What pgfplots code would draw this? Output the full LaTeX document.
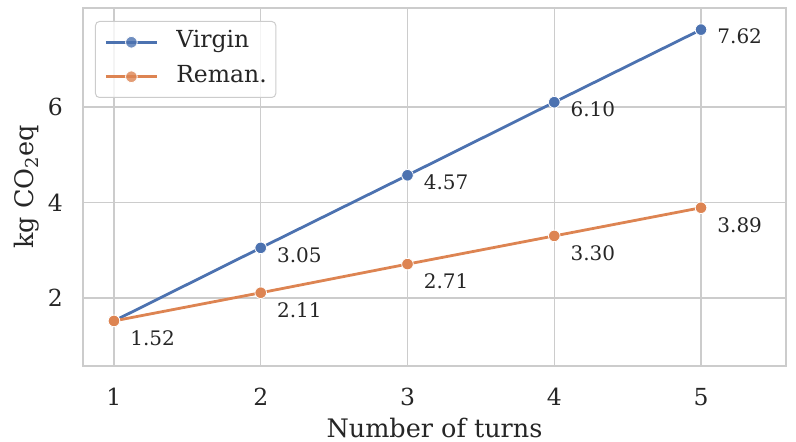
\documentclass[border=0pt]{standalone}
\usepackage{fontspec}
\setmainfont{DejaVu Serif}
\usepackage{pgfplots}
\pgfplotsset{compat=1.18}
\definecolor{sbblue}{HTML}{4C72B0}
\definecolor{sborange}{HTML}{DD8452}
\definecolor{gridc}{HTML}{CCCCCC}
\definecolor{textc}{HTML}{262626}
\begin{document}
\begin{tikzpicture}
\useasboundingbox (-83pt,-76pt) rectangle (713pt,366pt);
\begin{axis}[
  at={(0,0)}, anchor=south west,
  scale only axis, width=703pt, height=358pt,
  xmin=0.789, xmax=5.579, ymin=0.576, ymax=8.073,
  xtick={1,2,3,4,5}, ytick={2,4,6},
  grid=major, major grid style={gridc, line width=1.5pt},
  axis line style={gridc, line width=1.5pt},
  tick style={draw=none},
  /pgf/number format/assume math mode=true,
  ticklabel style={font=\fontsize{23.5}{28}\selectfont},
  xticklabel style={textc, anchor=base, inner sep=0pt, yshift=-39pt},
  yticklabel style={textc, anchor=east, inner sep=0pt, xshift=-20pt},
  xlabel={Number of turns},
  ylabel={kg CO\textsubscript{2}eq},
  label style={font=\fontsize{25.5}{30}\selectfont},
  xlabel style={textc, at={(axis description cs:0.5,0)}, anchor=base, inner sep=0pt, yshift=-71pt},
  ylabel style={textc, at={(axis description cs:0,0.5)}, anchor=center, inner sep=0pt, yshift=56pt},
  legend cell align=left,
  legend image code/.code={\draw[mark repeat=2, mark phase=2] plot coordinates {(0pt,0pt) (25.5pt,0pt) (51pt,0pt)};},
  legend style={at={(0,1)}, anchor=north west, xshift=12pt, yshift=-13pt,
    font=\fontsize{23.5}{28}\selectfont,
    draw=gridc, line width=1pt, rounded corners=4pt, fill=white, fill opacity=0.8, text opacity=1,
    text=textc, inner xsep=9pt, inner ysep=9pt, row sep=11pt,
    nodes={inner sep=0pt, text height=17.5pt, text depth=6pt},
    /tikz/every odd column/.append style={column sep=18pt}},
  nodes near coords,
  point meta=explicit symbolic,
  nodes near coords style={font=\fontsize{20}{24}\selectfont,
    textc, anchor=west, inner sep=0pt, xshift=16pt},
]
\addplot[sbblue, line width=2.8pt, mark=*, mark size=5.8pt,
  mark options={fill=sbblue, draw=white, line width=0.8pt},
  nodes near coords style={yshift=-7pt}]
  coordinates {(1,1.52) [] (2,3.05) [3.05] (3,4.57) [4.57] (4,6.10) [6.10] (5,7.62) [7.62]};
\addlegendentry{Virgin}
\addplot[sborange, line width=2.8pt, mark=*, mark size=5.8pt,
  mark options={fill=sborange, draw=white, line width=0.8pt},
  nodes near coords style={yshift=-17pt}]
  coordinates {(1,1.52) [1.52] (2,2.11) [2.11] (3,2.71) [2.71] (4,3.30) [3.30] (5,3.89) [3.89]};
\addlegendentry{Reman.}
\end{axis}
\end{tikzpicture}
\end{document}
